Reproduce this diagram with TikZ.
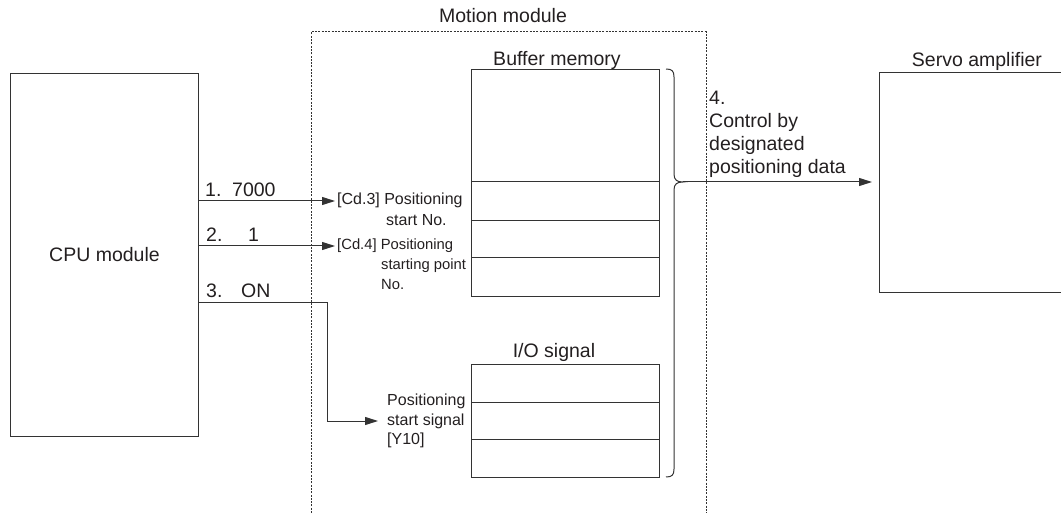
\documentclass[tikz,border=0pt]{standalone}
\usepackage{fontspec}
\setmainfont{Liberation Sans}
\usetikzlibrary{arrows.meta}
\definecolor{ln}{HTML}{333333}
\definecolor{tx}{HTML}{231F20}
\begin{document}
\begin{tikzpicture}[x=1pt,y=-1pt,
  box/.style={draw=ln, line width=1pt, inner sep=0pt, anchor=north west},
  arr/.style={draw=ln, line width=1pt, -{Triangle[length=13pt,width=8pt]}},
  divider/.style={draw=ln, line width=1pt},
  lbl/.style={text=tx, inner sep=0pt, font=\fontsize{19.5}{23}\selectfont},
  small/.style={text=tx, inner sep=0pt, font=\fontsize{16}{19}\selectfont},
  smaller/.style={text=tx, inner sep=0pt, font=\fontsize{14.8}{19}\selectfont},
  dots/.style={draw=ln, line width=1pt, dash pattern=on 2pt off 1.3pt}]
\useasboundingbox (0,0) rectangle (1061,513);

% Motion module (dotted frame, open at the bottom)
\draw[dots] (311,513) -- (311,32) -- (706,32) -- (706,513);
\node[lbl, anchor=base] (mm) at (503,23) {Motion module};

% CPU module
\node[box, minimum width=188pt, minimum height=363pt, text=tx,
      font=\fontsize{19.5}{23}\selectfont] (cpu) at (10,73) {CPU module};

% Buffer memory
\node[box, minimum width=188pt, minimum height=227pt] (buf) at (471,69) {};
\node[lbl, anchor=base] (buflbl) at (557,66) {Buffer memory};
\foreach \yy in {182,221,258} \draw[divider] (buf.west |- 0,\yy) -- (buf.east |- 0,\yy);

% I/O signal
\node[box, minimum width=188pt, minimum height=113pt] (io) at (471,364) {};
\node[lbl, anchor=base] (iolbl) at (554,357) {I/O signal};
\foreach \yy in {402,439} \draw[divider] (io.west |- 0,\yy) -- (io.east |- 0,\yy);

% Servo amplifier (right side runs off the picture)
\node[box, minimum width=200pt, minimum height=220pt] (servo) at (879,72) {};
\node[lbl, anchor=base] (servolbl) at (977,67) {Servo amplifier};

% Brace
\draw[divider] (666,69) .. controls (672,69) and (674,71) .. (674,77)
  -- (674,174) .. controls (674,180) and (677,182) .. (683,182)
  .. controls (677,182) and (674,184) .. (674,190)
  -- (674,469) .. controls (674,475) and (672,477) .. (666,477);
\coordinate (tip) at (683,182);

% Labels at the CPU side
\node[lbl, anchor=base west] (n1) at (205,197) {1.};
\node[lbl, anchor=base west] (v1) at (232,197) {7000};
\node[lbl, anchor=base west] (n2) at (206,242) {2.};
\node[lbl, anchor=base west] (v2) at (248,242) {1};
\node[lbl, anchor=base west] (n3) at (206,298) {3.};
\node[lbl, anchor=base west] (v3) at (241,298) {ON};

% Buffer memory item labels
\node[small, anchor=base west] (cd3a) at (337,205) {[Cd.3] Positioning};
\node[small, anchor=base west] (cd3b) at (386,226) {start No.};
\node[smaller, anchor=base west] (cd4a) at (337,250) {[Cd.4] Positioning};
\node[smaller, anchor=base west] (cd4b) at (381,270) {starting point};
\node[smaller, anchor=base west] (cd4c) at (381,290) {No.};

% I/O signal label
\node[small, anchor=base west] (ps1) at (387,405) {Positioning};
\node[small, anchor=base west] (ps2) at (387,425) {start signal};
\node[small, anchor=base west] (ps3) at (387,444) {[Y10]};

% Arrows
\coordinate (a1) at (cpu.east |- 0,201);
\coordinate (a2) at (cpu.east |- 0,246);
\draw[arr, shorten >=2pt] (a1) -- (a1 -| cd3a.west);
\draw[arr, shorten >=2pt] (a2) -- (a2 -| cd4a.west);
\coordinate (c3) at (327,303);
\coordinate (e3) at (ps2.west |- 0,421);
\draw[arr, shorten >=9pt] (cpu.east |- c3) -- (c3) |- (e3);

% Control text and arrow to servo amplifier
\node[lbl, anchor=north west, align=left] (ctl) at (709,91)
  {4.\\Control by\\designated\\positioning data};
\draw[arr, shorten >=7pt] (tip) -- (servo.west |- tip);
\end{tikzpicture}
\end{document}
